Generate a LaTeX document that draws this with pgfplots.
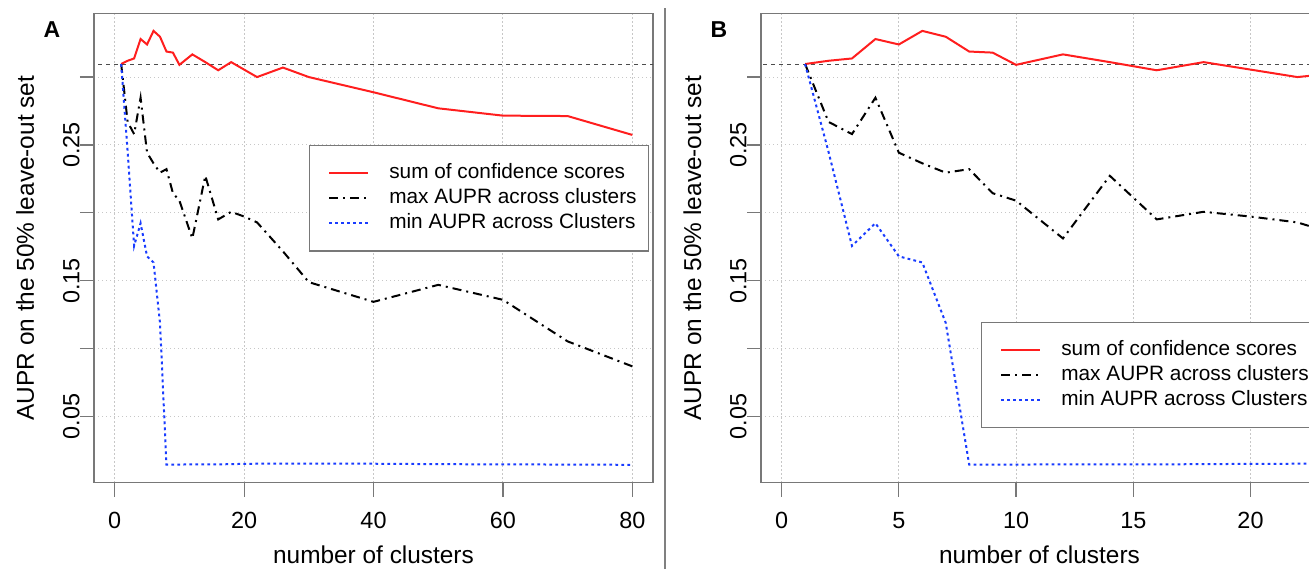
\documentclass[border=0pt]{standalone}
\usepackage{fontspec}
\setmainfont{Liberation Sans}
\usepackage{pgfplots}
\pgfplotsset{compat=1.18}
\usepackage{pgfplotstable}

\pgfplotstableread{
x red black blue
1 0.3096 0.3096 0.3096
2 0.3120 0.2670 0.2450
3 0.3137 0.2580 0.1757
4 0.3280 0.2848 0.1924
5 0.3240 0.2443 0.1680
6 0.3340 0.2365 0.1635
7 0.3297 0.2296 0.1190
8 0.3188 0.2322 0.0147
9 0.3180 0.2145 0.0147
10 0.3090 0.2090 0.0147
12 0.3167 0.1812 0.0148
14 0.3110 0.2273 0.0148
16 0.3050 0.1952 0.0148
18 0.3110 0.2008 0.0150
20 0.3055 0.1973 0.0152
22 0.3000 0.1930 0.0153
26 0.3070 0.1717 0.0154
30 0.3000 0.1490 0.0154
40 0.2888 0.1345 0.0153
50 0.2770 0.1470 0.0150
60 0.2716 0.1360 0.0148
70 0.2713 0.1054 0.0147
80 0.2574 0.0870 0.0145
}\dataA

\definecolor{rred}{RGB}{255,30,30}
\definecolor{rblue}{RGB}{25,60,255}
\definecolor{boxgray}{RGB}{120,120,120}

\pgfplotsset{
  rstyle/.style={
    scale only axis, height=234.55pt,
    ymin=0.0014, ymax=0.3468,
    ytick={0.05,0.10,0.15,0.20,0.25,0.30},
    yticklabels={0.05,,0.15,,0.25,},
    tick align=outside, xtick pos=left, ytick pos=left,
    major tick length=7pt,
    every tick/.style={boxgray, line width=0.6pt},
    axis line style={boxgray, line width=0.6pt},
    grid=major,
    major grid style={black!22, line width=0.5pt, dash pattern=on 0.6pt off 1.4pt},
    tick label style={font=\fontsize{11.7}{14}\selectfont},
    /pgf/number format/assume math mode=true,
    yticklabel style={rotate=90, anchor=south, inner sep=0pt},
    xticklabel style={anchor=north, inner sep=0pt, yshift=-7.5pt},
    label style={font=\fontsize{12.2}{14}\selectfont},
    xlabel style={at={(axis description cs:0.5,-0.1543)}, anchor=center},
    ylabel style={at={(axis description cs:-0.123,0.5)}, anchor=center},
    xlabel={number of clusters},
    ylabel={AUPR on the 50\% leave-out set},
    legend style={draw=boxgray, line width=0.6pt, font=\fontsize{10.4}{12}\selectfont,
      inner xsep=6pt, inner ysep=9pt, row sep=2.8pt,
      nodes={inner sep=0pt, text height=7.5pt, text depth=2.2pt, anchor=west}},
    legend cell align=left,
    legend image code/.code={\path (0pt,0pt); \draw[##1] (3.35pt,0pt) -- (22.85pt,0pt);},
    /tikz/every odd column/.append style={column sep=10pt},
  },
  redl/.style={rred, line width=1pt},
  blackl/.style={black, line width=1pt, dash pattern=on 4.5pt off 2.5pt on 1pt off 2.5pt},
  bluel/.style={rblue, line width=1pt, dash pattern=on 1.4pt off 1.6pt},
  refl/.style={black!70, line width=0.5pt, dash pattern=on 2pt off 2pt},
}

\begin{document}
\begin{tikzpicture}
\begin{axis}[rstyle, at={(47pt,43.2pt)}, anchor=south west, width=279.5pt,
  xmin=-3.2, xmax=83.2, xtick={0,20,40,60,80},
  legend style={at={(0.3846,0.7197)}, anchor=north west}]
\addplot[refl, forget plot] coordinates {(-10,0.3096) (100,0.3096)};
\addplot[redl] table[x=x,y=red]{\dataA};
\addlegendentry{sum of confidence scores}
\addplot[blackl] table[x=x,y=black]{\dataA};
\addlegendentry{max AUPR across clusters}
\addplot[bluel] table[x=x,y=blue]{\dataA};
\addlegendentry{min AUPR across Clusters}
\end{axis}
\begin{axis}[rstyle, at={(380.5pt,43.2pt)}, anchor=south west, width=278.5pt,
  xmin=-0.88, xmax=22.88, xtick={0,5,10,15,20},
  legend style={at={(0.395,0.343)}, anchor=north west}]
\addplot[refl, forget plot] coordinates {(-10,0.3096) (100,0.3096)};
\addplot[redl] table[x=x,y=red]{\dataA};
\addlegendentry{sum of confidence scores}
\addplot[blackl] table[x=x,y=black]{\dataA};
\addlegendentry{max AUPR across clusters}
\addplot[bluel] table[x=x,y=blue]{\dataA};
\addlegendentry{min AUPR across Clusters}
\end{axis}
\node[font=\bfseries\fontsize{11.5}{13}\selectfont] at (26pt,269.5pt) {A};
\node[font=\bfseries\fontsize{11.5}{13}\selectfont] at (359.5pt,269.5pt) {B};
\draw[black!50, line width=1pt] (332.3pt,0pt) -- (332.3pt,280.5pt);
\pgfresetboundingbox
\path[use as bounding box] (0pt,0pt) rectangle (654.5pt,284.5pt);
\end{tikzpicture}
\end{document}
